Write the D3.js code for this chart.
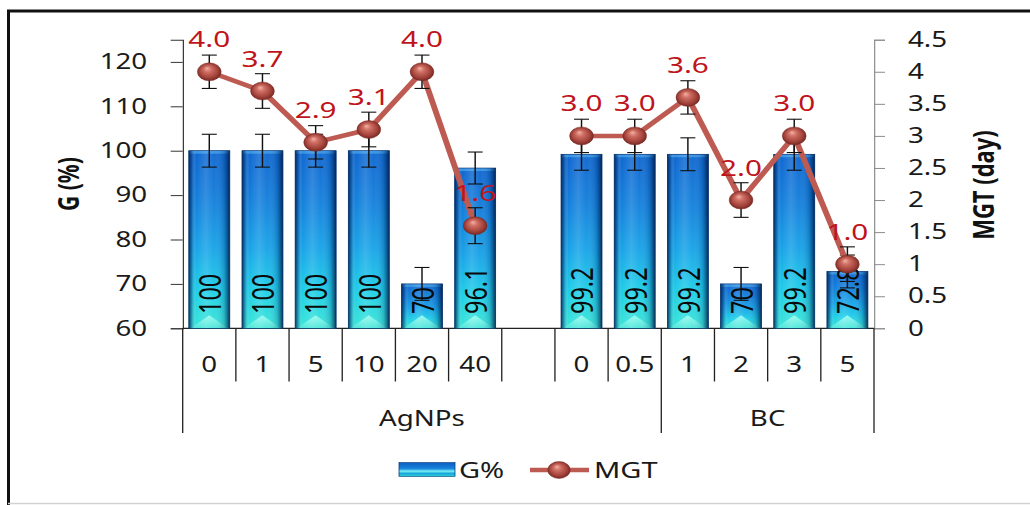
<!DOCTYPE html>
<html>
<head>
<meta charset="utf-8">
<script src="https://cdn.jsdelivr.net/npm/d3@7"></script>
<style>
  html, body { margin: 0; padding: 0; background: #fff; }
  svg { display: block; }
</style>
</head>
<body>
<script>
// ---- data ----
const categories  = ["0", "1", "5", "10", "20", "40", "", "0", "0.5", "1", "2", "3", "5"];
const groupNames  = ["AgNPs", "BC"];
const groupSizes  = [9, 4];
const gPercent    = [100, 100, 100, 100, 70, 96.1, null, 99.2, 99.2, 99.2, 70, 99.2, 72.8];
const gPercentErr = [3.7, 3.7, 3.7, 3.7, 3.7, 3.6, null, 3.6, 3.6, 3.7, 3.7, 3.6, 3.7];
const mgtDays     = [4.0, 3.7, 2.9, 3.1, 4.0, 1.6, null, 3.0, 3.0, 3.6, 2.0, 3.0, 1.0];
const mgtErr      = [0.26, 0.27, 0.26, 0.27, 0.26, 0.28, null, 0.26, 0.26, 0.26, 0.27, 0.26, 0.27];
const leftTicks   = [60, 70, 80, 90, 100, 110, 120];
const rightTicks  = [0, 0.5, 1, 1.5, 2, 2.5, 3, 3.5, 4, 4.5];
const seriesNames = ["G%", "MGT"];
const axisTitles  = ["G (%)", "MGT (day)"];

// ---- layout ----
const W = 1030, H = 505;
const S = 1.32;                 // the whole drawing is widened horizontally by this factor
const X = v => v / S;           // screen x -> inner x
const FONT = "'Noto Sans', 'Open Sans', sans-serif";
const plotL = 182.7, plotR = 874, plotTop = 39.7, plotBot = 328.3;

const svg = d3.select("body").append("svg")
  .attr("width", W).attr("height", H)
  .attr("viewBox", `0 0 ${W} ${H}`);

svg.append("rect").attr("width", W).attr("height", H).attr("fill", "#fff");

// outer frame
svg.append("path")
  .attr("d", `M8.5,${H} V11 H${W}`)
  .attr("fill", "none").attr("stroke", "#111").attr("stroke-width", 3);
svg.append("line")
  .attr("x1", 8).attr("x2", W).attr("y1", 503.5).attr("y2", 503.5)
  .attr("stroke", "#d2d2d2").attr("stroke-width", 1.5);

const defs = svg.append("defs");

const barV = defs.append("linearGradient").attr("id", "barV")
  .attr("x1", 0).attr("y1", 0).attr("x2", 0).attr("y2", 1);
[[0, "#0f66d0"], [0.3, "#1482dd"], [0.55, "#18a4e8"], [0.78, "#1ecde8"], [1, "#3ae6d8"]]
  .forEach(([o, c]) => barV.append("stop").attr("offset", o).attr("stop-color", c));

const barH = defs.append("linearGradient").attr("id", "barH")
  .attr("x1", 0).attr("y1", 0).attr("x2", 1).attr("y2", 0);
[[0, "#021d4a", 0.85], [0.07, "#04306a", 0.4], [0.18, "#ffffff", 0.0], [0.42, "#ffffff", 0.14],
 [0.62, "#ffffff", 0.03], [0.86, "#04306a", 0.22], [0.94, "#021d4a", 0.55], [1, "#021d4a", 0.9]]
  .forEach(([o, c, a]) => barH.append("stop").attr("offset", o).attr("stop-color", c).attr("stop-opacity", a));

const bevel = defs.append("linearGradient").attr("id", "bevel")
  .attr("x1", 0).attr("y1", 0).attr("x2", 0).attr("y2", 1);
[[0, "#a6fff2"], [1, "#4fe6da"]]
  .forEach(([o, c]) => bevel.append("stop").attr("offset", o).attr("stop-color", c));

const legendFill = defs.append("linearGradient").attr("id", "legendFill")
  .attr("x1", 0).attr("y1", 0).attr("x2", 0).attr("y2", 1);
[[0, "#0b5cc2"], [0.45, "#1a86dc"], [0.62, "#7af2f6"], [0.78, "#1aa6dc"], [1, "#27d2d2"]]
  .forEach(([o, c]) => legendFill.append("stop").attr("offset", o).attr("stop-color", c));

const ball = defs.append("radialGradient").attr("id", "ball")
  .attr("cx", 0.5).attr("cy", 0.5).attr("r", 0.55).attr("fx", 0.4).attr("fy", 0.3);
[[0, "#f3b2a6"], [0.3, "#cf6e63"], [0.7, "#a4433b"], [1, "#6b221d"]]
  .forEach(([o, c]) => ball.append("stop").attr("offset", o).attr("stop-color", c));

const root = svg.append("g").attr("transform", `scale(${S},1)`);

// ---- scales ----
const x = d3.scaleBand()
  .domain(d3.range(categories.length))
  .range([X(plotL), X(plotR)])
  .paddingInner(0.23).paddingOuter(0.115);
const cx = i => x(i) + x.bandwidth() / 2;
const boundary = i => x.range()[0] + i * x.step();
const yL = d3.scaleLinear().domain([60, 125]).range([plotBot, plotTop]);
const yR = d3.scaleLinear().domain([0, 4.5]).range([plotBot, plotTop]);

// ---- axes ----
const axL = root.append("g").attr("transform", `translate(${X(plotL)},0)`)
  .call(d3.axisLeft(yL).tickValues(leftTicks).tickSizeOuter(0)
    .tickSize(X(12)).tickPadding(X(23.5)));
axL.select(".domain").attr("stroke", "#333").attr("stroke-width", 0.9);
axL.selectAll(".tick line").attr("stroke", "#333").attr("stroke-width", 1);
axL.selectAll(".tick text").attr("font-family", FONT).attr("font-size", 21).attr("fill", "#1a1a1a");

const axR = root.append("g").attr("transform", `translate(${X(plotR)},0)`)
  .call(d3.axisRight(yR).tickValues(rightTicks).tickSizeOuter(0)
    .tickFormat(d3.format("~g")).tickSize(X(11)).tickPadding(X(23)));
axR.select(".domain").attr("stroke", "#8c8c8c").attr("stroke-width", 0.9);
axR.selectAll(".tick line").attr("stroke", "#8c8c8c").attr("stroke-width", 1);
axR.selectAll(".tick text").attr("font-family", FONT).attr("font-size", 21).attr("fill", "#1a1a1a");

// axis titles
root.append("text")
  .attr("transform", `translate(${X(68)},${(plotTop + plotBot) / 2}) rotate(-90)`)
  .attr("text-anchor", "middle").attr("dominant-baseline", "central")
  .attr("font-family", FONT).attr("font-size", 21).attr("font-weight", "bold").attr("fill", "#111")
  .text(axisTitles[0]);
root.append("text")
  .attr("transform", `translate(${X(983)},${(plotTop + plotBot) / 2 + 1}) rotate(-90)`)
  .attr("text-anchor", "middle").attr("dominant-baseline", "central")
  .attr("font-family", FONT).attr("font-size", 22).attr("font-weight", "bold").attr("fill", "#111")
  .text(axisTitles[1]);

// ---- category axis (two levels) ----
const cat = root.append("g").attr("stroke", "#222").attr("stroke-width", 1);
cat.append("line").attr("x1", X(plotL)).attr("x2", X(plotR))
  .attr("y1", plotBot).attr("y2", plotBot).attr("stroke-width", 1.2);
const groupEdges = [0];
groupSizes.forEach(n => groupEdges.push(groupEdges[groupEdges.length - 1] + n));
d3.range(categories.length + 1).forEach(i => {
  const isGroupEdge = groupEdges.includes(i);
  cat.append("line")
    .attr("x1", boundary(i)).attr("x2", boundary(i))
    .attr("y1", plotBot).attr("y2", isGroupEdge ? 433 : 381.5)
    .attr("stroke-width", 1);
});
root.append("g").selectAll("text").data(categories).join("text")
  .attr("x", (d, i) => cx(i)).attr("y", 364)
  .attr("text-anchor", "middle").attr("dominant-baseline", "central")
  .attr("font-family", FONT).attr("font-size", 21).attr("fill", "#1a1a1a")
  .text(d => d);
root.append("g").selectAll("text").data(groupNames).join("text")
  .attr("x", (d, i) => (boundary(groupEdges[i]) + boundary(groupEdges[i + 1])) / 2)
  .attr("y", 418)
  .attr("text-anchor", "middle").attr("dominant-baseline", "central")
  .attr("font-family", FONT).attr("font-size", 21).attr("fill", "#1a1a1a")
  .text(d => d);

// ---- bars ----
const barIdx = d3.range(categories.length).filter(i => gPercent[i] != null);
const barG = root.append("g").selectAll("g").data(barIdx).join("g");
barG.append("rect")
  .attr("x", i => x(i)).attr("width", x.bandwidth())
  .attr("y", i => yL(gPercent[i])).attr("height", i => yL(60) - yL(gPercent[i]))
  .attr("fill", "url(#barV)");
barG.append("polygon")
  .attr("points", i => {
    const x0 = x(i), x1 = x(i) + x.bandwidth(), yb = yL(60);
    return `${x0 + 1.5},${yb} ${(x0 + x1) / 2},${yb - 13} ${x1 - 1.5},${yb}`;
  })
  .attr("fill", "url(#bevel)").attr("opacity", 0.85);
barG.append("rect")
  .attr("x", i => x(i)).attr("width", x.bandwidth())
  .attr("y", i => yL(gPercent[i])).attr("height", 3)
  .attr("fill", "#3f9ee8").attr("opacity", 0.8);
barG.append("rect")
  .attr("x", i => x(i)).attr("width", x.bandwidth())
  .attr("y", i => yL(gPercent[i])).attr("height", i => yL(60) - yL(gPercent[i]))
  .attr("fill", "url(#barH)").attr("stroke", "#08306a").attr("stroke-width", 0.6);

// bar value labels
root.append("g").selectAll("text").data(barIdx).join("text")
  .attr("transform", i => `translate(${cx(i)},314) rotate(-90)`)
  .attr("text-anchor", "start").attr("dominant-baseline", "central")
  .attr("font-family", FONT).attr("font-size", 23.5).attr("fill", "#0a0a0a")
  .text(i => String(gPercent[i]));

// error bars helper
function errorBars(sel, idx, vals, errs, scale) {
  const capW = X(7.5);
  const g = sel.append("g").attr("stroke", "#111").attr("stroke-width", 1.1);
  idx.forEach(i => {
    const hi = scale(vals[i] + errs[i]), lo = scale(vals[i] - errs[i]), c = cx(i);
    g.append("line").attr("x1", c).attr("x2", c).attr("y1", hi).attr("y2", lo);
    g.append("line").attr("x1", c - capW).attr("x2", c + capW).attr("y1", hi).attr("y2", hi);
    g.append("line").attr("x1", c - capW).attr("x2", c + capW).attr("y1", lo).attr("y2", lo);
  });
}
errorBars(root, barIdx, gPercent, gPercentErr, yL);

// ---- MGT line ----
const mgtIdx = d3.range(categories.length).filter(i => mgtDays[i] != null);
const line = d3.line()
  .defined(i => mgtDays[i] != null)
  .x(i => cx(i)).y(i => yR(mgtDays[i]));
root.append("path")
  .datum(d3.range(categories.length))
  .attr("d", line)
  .attr("fill", "none").attr("stroke", "#bd5a52").attr("stroke-width", 4.5)
  .attr("stroke-linejoin", "round");

errorBars(root, mgtIdx, mgtDays, mgtErr, yR);

root.append("g").selectAll("circle").data(mgtIdx).join("circle")
  .attr("cx", i => cx(i)).attr("cy", i => yR(mgtDays[i])).attr("r", 9)
  .attr("fill", "url(#ball)").attr("stroke", "#7a2a24").attr("stroke-width", 0.4);

root.append("g").selectAll("text").data(mgtIdx).join("text")
  .attr("x", i => cx(i)).attr("y", i => yR(mgtDays[i]) - 33)
  .attr("text-anchor", "middle").attr("dominant-baseline", "central")
  .attr("font-family", FONT).attr("font-size", 22.5).attr("fill", "#c0141c")
  .text(i => d3.format(".1f")(mgtDays[i]));

// ---- legend ----
const leg = root.append("g");
leg.append("rect").attr("x", X(399)).attr("y", 462.5).attr("width", X(56)).attr("height", 14)
  .attr("fill", "url(#legendFill)").attr("stroke", "#0a3d80").attr("stroke-width", 0.6);
leg.append("text").attr("x", X(459)).attr("y", 469.5)
  .attr("dominant-baseline", "central")
  .attr("font-family", FONT).attr("font-size", 22).attr("fill", "#1a1a1a")
  .text(seriesNames[0]);
leg.append("line").attr("x1", X(530)).attr("x2", X(589)).attr("y1", 470).attr("y2", 470)
  .attr("stroke", "#bd5a52").attr("stroke-width", 4.5);
leg.append("circle").attr("cx", X(559)).attr("cy", 470).attr("r", 8.5)
  .attr("fill", "url(#ball)").attr("stroke", "#7a2a24").attr("stroke-width", 0.4);
leg.append("text").attr("x", X(594)).attr("y", 469.5)
  .attr("dominant-baseline", "central")
  .attr("font-family", FONT).attr("font-size", 22).attr("fill", "#1a1a1a")
  .text(seriesNames[1]);
</script>
</body>
</html>
